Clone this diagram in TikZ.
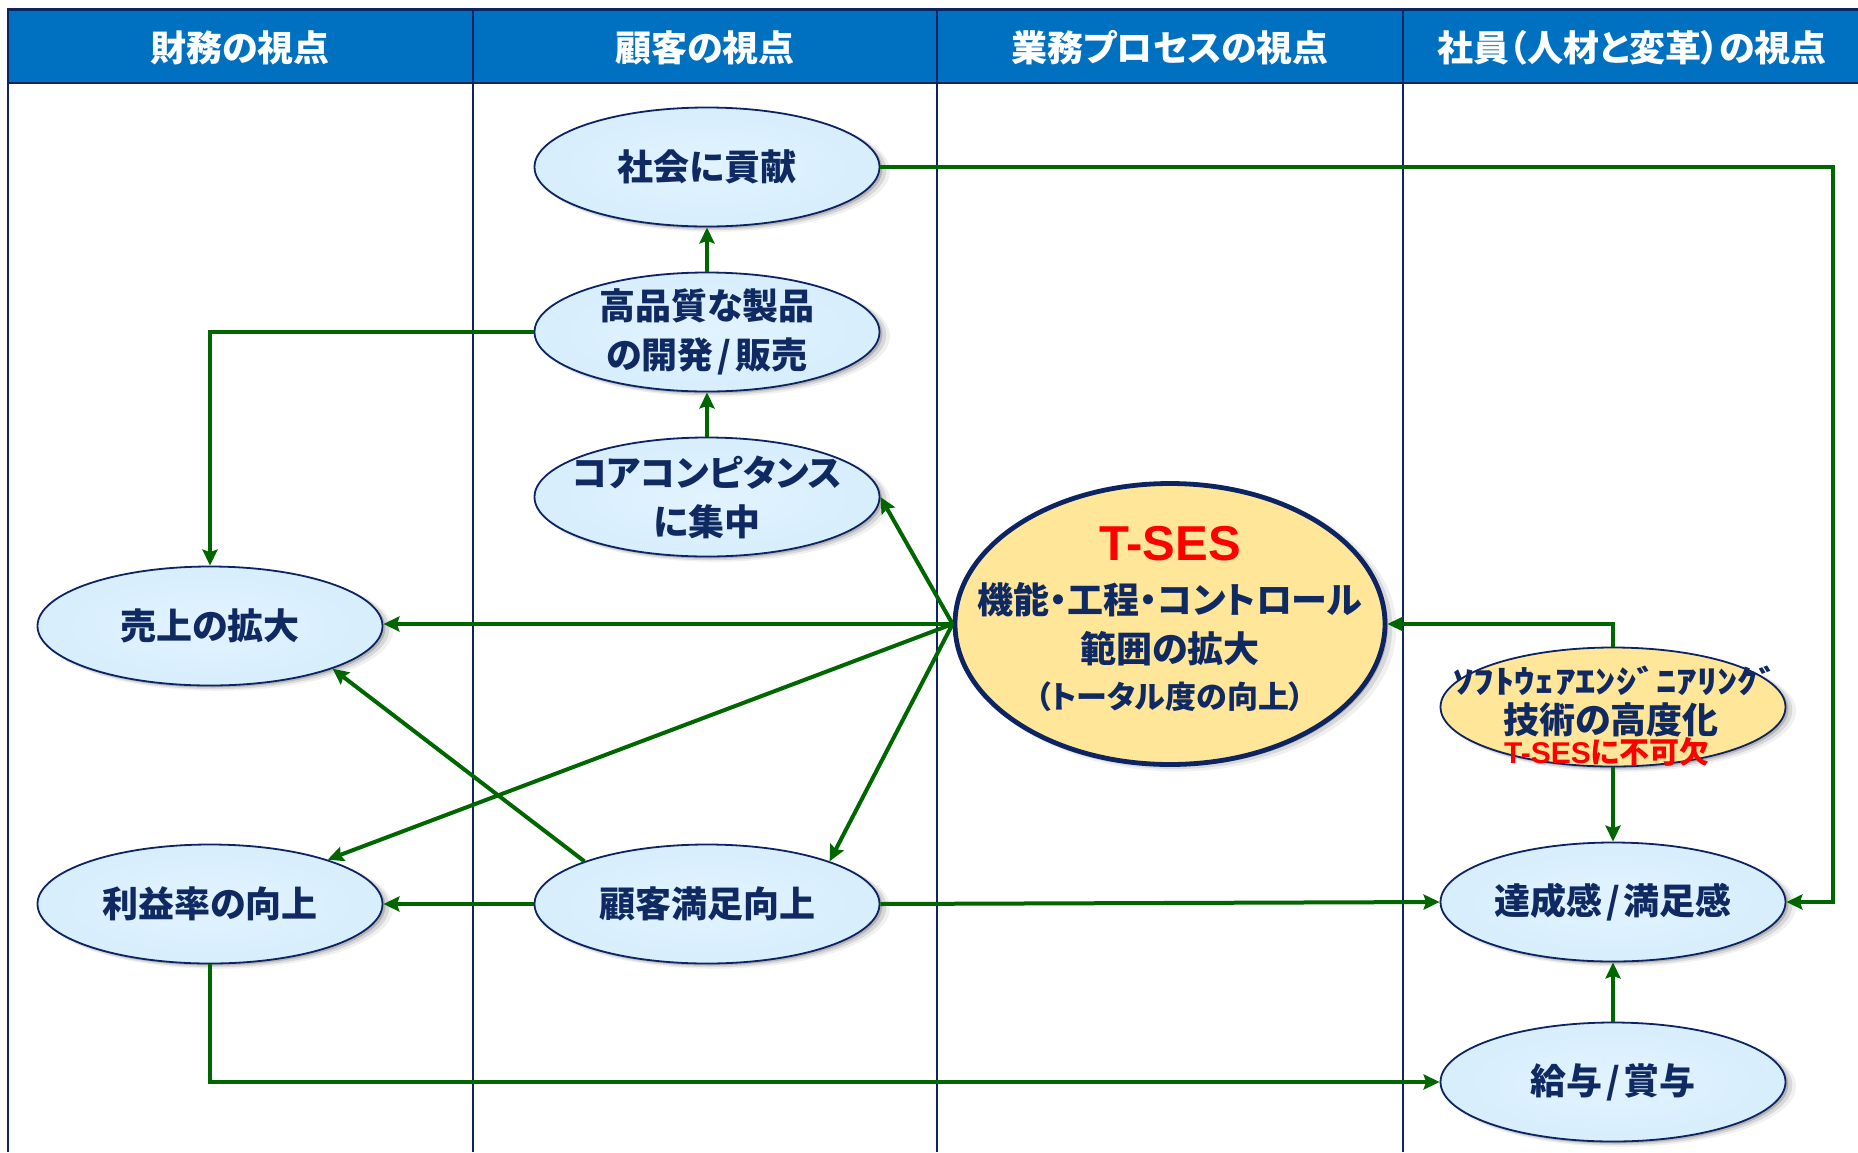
\documentclass[tikz,border=0pt]{standalone}
\usepackage{fontspec}
\newfontfamily\jp{Noto Sans CJK JP}[RawFeature=+palt]
\newfontfamily\jpw{Noto Sans CJK JP}
\newfontfamily\lat{Liberation Sans}
\usetikzlibrary{shapes.geometric,arrows.meta,shadows}
\definecolor{hdr}{HTML}{0070C0}
\definecolor{navy}{HTML}{0C2461}
\definecolor{txt}{HTML}{0F2A62}
\definecolor{grn}{HTML}{006600}
\definecolor{lbA}{HTML}{E2F3FF}
\definecolor{lbB}{HTML}{C6E5FA}
\definecolor{ylw}{HTML}{FFE699}
\definecolor{redT}{HTML}{FF0000}
\pgfdeclareradialshading{bubshade}{\pgfpoint{0bp}{0bp}}{color(0bp)=(lbA); color(28bp)=(lbA!55!lbB); color(50bp)=(lbB); color(80bp)=(lbB)}
\newcommand{\slsh}{\hspace{4pt}/\hspace{4pt}}
\tikzset{
  softshadow/.style={drop shadow={shadow xshift=3pt, shadow yshift=-2pt, opacity=0.16, fill=black},
                     drop shadow={shadow xshift=5pt, shadow yshift=-3pt, opacity=0.10, fill=black, shadow scale=1.01},
                     drop shadow={shadow xshift=7pt, shadow yshift=-4pt, opacity=0.06, fill=black, shadow scale=1.02}},
  bub/.style={ellipse, draw=navy, line width=1.8pt, minimum width=345pt, minimum height=119pt, inner sep=-40pt,
              shade, shading=bubshade, text=txt, font=\jp\bfseries\fontsize{36}{49}\selectfont, align=center, softshadow},
  ybub/.style={ellipse, draw=navy, fill=ylw, inner sep=0pt, softshadow},
  arr/.style={draw=grn, line width=4pt, -{Stealth[length=16pt,width=15pt,inset=2.5pt]}},
  lane/.style={draw=navy, line width=1.8pt},
  htext/.style={text=white, font=\jp\bfseries\fontsize{36}{40}\selectfont, inner sep=0pt},
  intext/.style={text=txt, inner sep=0pt, align=center},
}
\begin{document}
\begin{tikzpicture}[x=1pt,y=-1pt]
\useasboundingbox (0,0) rectangle (1858,1152);
% header
\fill[hdr] (8,9.5) rectangle (1858,83);
\draw[navy, line width=2.4pt] (1858,9.5) -- (8,9.5) -- (8,83) -- (1858,83);
% lanes
\draw[lane] (8,9.5) -- (8,1152);
\draw[lane] (473,9.5) -- (473,1152);
\draw[lane] (937,9.5) -- (937,1152);
\draw[lane] (1403,9.5) -- (1403,1152);
\node[htext] (h1) at (240,48) {財務の視点};
\node[htext] (h2) at (705,48) {顧客の視点};
\node[htext] (h3) at (1170,48) {業務プロセスの視点};
\node[htext] (h4) at (1632,48) {社員（人材と変革）の視点};
% nodes
\node[bub] (shakai) at (707,167) {社会に貢献};
\node[bub] (kohin) at (707,332) {高品質な製品\\の開発\slsh 販売};
\node[bub] (core) at (707,497) {コアコンピタンス\\に集中};
\node[bub] (uri) at (210,626) {売上の拡大};
\node[bub] (rieki) at (210,904) {利益率の向上};
\node[bub] (kokyaku) at (707,904) {顧客満足向上};
\node[bub] (tassei) at (1613,902) {達成感\slsh 満足感};
\node[bub] (kyuyo) at (1613,1082) {給与\slsh 賞与};
\node[ybub, line width=1.8pt, minimum width=345pt, minimum height=119pt] (soft) at (1613,707) {};
\node[ybub, line width=4.8pt, minimum width=430pt, minimum height=281pt] (tses) at (1170,624) {};
% T-SES texts
\node[inner sep=0pt, text=redT, font=\lat\bfseries\fontsize{49}{55}\selectfont] (tsesT) at (1170,544) {T-SES};
\node[intext, font=\jp\bfseries\fontsize{36}{40}\selectfont] (tsesA) at (1170,600) {機能・工程・コントロール};
\node[intext, font=\jp\bfseries\fontsize{36}{40}\selectfont] (tsesB) at (1170,649) {範囲の拡大};
\node[intext, font=\jp\bfseries\fontsize{31}{36}\selectfont] (tsesC) at (1170,697) {（トータル度の向上）};
% software texts
\node[intext, font=\jpw\bfseries\fontsize{32}{36}\selectfont] (softA) at (1616,681) {\scalebox{1.27}[1]{ｿﾌﾄｳｪｱｴﾝｼﾞﾆｱﾘﾝｸﾞ}};
\node[intext, font=\jp\bfseries\fontsize{36}{40}\selectfont] (softB) at (1611,720) {技術の高度化};
\node[inner sep=0pt, text=redT, font=\jp\bfseries\fontsize{30}{34}\selectfont] (softC) at (1607,752) {{\lat\bfseries T-SES}に不可欠};
% connectors
\coordinate (rc) at (1833,167);
\draw[arr] (shakai.east) -- (rc) |- (tassei.east);
\draw[arr] (kohin.north) -- (shakai.south);
\draw[arr] (core.north) -- (kohin.south);
\draw[arr] (kohin.west) -| (uri.north);
\draw[arr] (tses.west) -- (tses.west -| uri.east);
\draw[arr] (tses.west) -- (core.east);
\draw[arr] (tses.west) -- (rieki);
\draw[arr] (tses.west) -- (kokyaku.north east);
\draw[arr] (kokyaku.north west) -- (uri.south east);
\draw[arr] (kokyaku.west) -- (rieki.east);
\draw[arr] (kokyaku.east) -- (tassei.west);
\draw[arr] (rieki.south) |- (kyuyo.west);
\draw[arr] (soft.north) |- (tses.east);
\draw[arr] (soft.south) -- (tassei.north);
\draw[arr] (kyuyo.north) -- (tassei.south);
\end{tikzpicture}
\end{document}
